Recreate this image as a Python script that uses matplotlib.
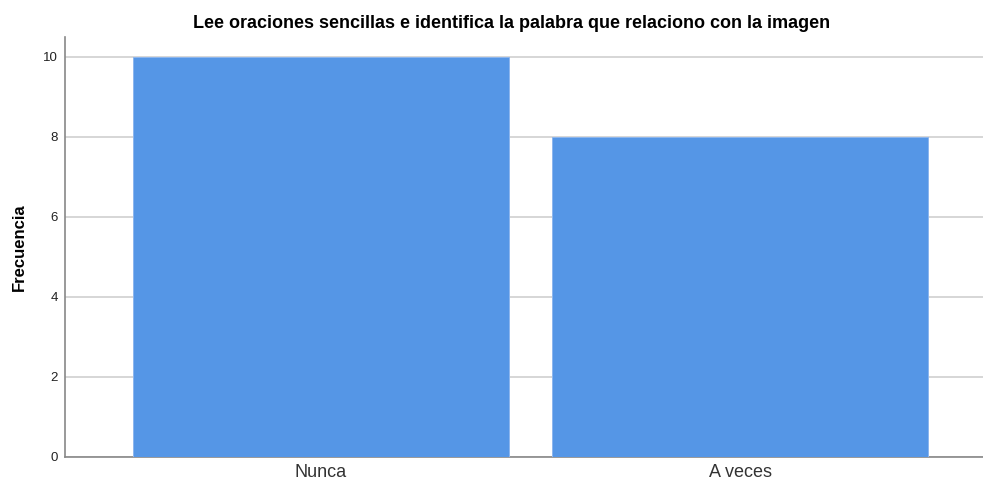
import matplotlib.pyplot as plt

plt.rcParams['font.family'] = ['Liberation Sans', 'DejaVu Sans']

categories = ['Nunca', 'A veces']
frecuencia = [10, 8]
yticks = [0, 2, 4, 6, 8, 10]
title = 'Lee oraciones sencillas e identifica la palabra que relaciono con la imagen'

fig = plt.figure(figsize=(9.83, 4.8), dpi=100)
ax = fig.add_axes([0.0661, 0.048, 0.934, 0.875])

x = range(len(categories))
ax.bar(x, frecuencia, width=0.897, color='#5596e6', edgecolor='#8db6ee',
       linewidth=0.7, zorder=3)

ax.set_xlim(-0.611, 1.58)
ax.set_ylim(0, 10.5)
ax.set_yticks(yticks)
ax.set_yticklabels([str(t) for t in yticks], fontsize=9.5, color='#222222')
ax.set_xticks(list(x))
ax.set_xticklabels(categories, fontsize=13, color='#333333')
ax.tick_params(axis='y', length=0, pad=5)
ax.tick_params(axis='x', length=0, pad=5)

ax.grid(axis='y', color='#d0d0d0', linewidth=1.2, zorder=0)
ax.set_axisbelow(True)
for s in ['top', 'right']:
    ax.spines[s].set_visible(False)
ax.spines['left'].set_color('#888888')
ax.spines['bottom'].set_color('#888888')
ax.spines['left'].set_linewidth(1.2)
ax.spines['bottom'].set_linewidth(1.2)

ax.set_ylabel('Frecuencia', fontsize=12, fontweight='bold', labelpad=12)
fig.text(0.52, 0.95, title, ha='center', va='center', fontsize=13,
         fontweight='bold')

fig.savefig('out.png', dpi=100)
